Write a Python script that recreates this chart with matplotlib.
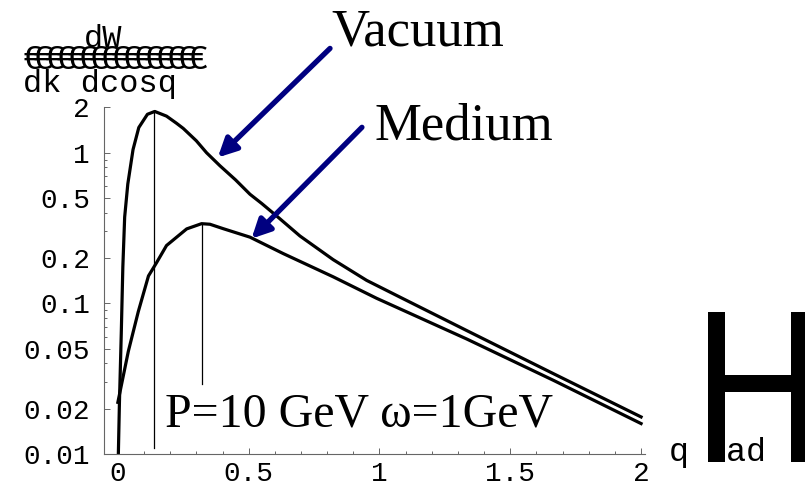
import numpy as np
import matplotlib.pyplot as plt
from matplotlib.patheffects import AbstractPathEffect
from matplotlib.transforms import Affine2D

# spectrum in vacuum and in the medium (log scale)
vac_x = [0.0, 0.006, 0.013, 0.019, 0.026, 0.038, 0.058, 0.08, 0.113, 0.141, 0.186, 0.224,
         0.25, 0.30, 0.339, 0.39, 0.45, 0.505, 0.55, 0.607, 0.696, 0.823, 0.951, 1.078,
         1.333, 1.665, 2.0]
vac_y = [0.007, 0.022, 0.063, 0.174, 0.374, 0.62, 1.05, 1.47, 1.8, 1.88, 1.75, 1.57,
         1.45, 1.2, 1.0, 0.82, 0.66, 0.53, 0.46, 0.38, 0.28, 0.195, 0.142, 0.110,
         0.066, 0.0341, 0.0176]

med_x = [0.0, 0.04, 0.078, 0.117, 0.147, 0.186, 0.263, 0.32, 0.352, 0.403, 0.505, 0.632,
         0.823, 0.989, 1.333, 1.665, 2.0]
med_y = [0.022, 0.048, 0.088, 0.152, 0.185, 0.242, 0.312, 0.338, 0.335, 0.313, 0.275, 0.214,
         0.150, 0.108, 0.058, 0.0308, 0.0159]

# peak markers: (x, y_bottom, y_top)
vac_peak = (0.138, 0.0109, 1.88)
med_peak = (0.32, 0.0293, 0.338)

xticks = [0, 0.5, 1, 1.5, 2]
xticklabels = ['0', '0.5', '1', '1.5', '2']
yticks = [0.01, 0.02, 0.05, 0.1, 0.2, 0.5, 1, 2]
yticklabels = ['0.01', '0.02', '0.05', '0.1', '0.2', '0.5', '1', '2']


class Squeeze(AbstractPathEffect):
    """draw text glyphs squeezed horizontally"""
    def __init__(self, sx):
        super().__init__()
        self.sx = sx

    def draw_path(self, renderer, gc, tpath, affine, rgbFace=None):
        renderer.draw_path(gc, tpath, Affine2D().scale(self.sx, 1) + affine, rgbFace)


W, H = 805, 490
fig = plt.figure(figsize=(W / 100, H / 100), dpi=100)
ax = fig.add_axes([104 / W, 1 - 453.9 / H, (645 - 104) / W, (453.9 - 107.4) / H])

def fx(px):
    return px / W

def fy(py):
    return 1 - py / H

ax.plot(vac_x, vac_y, color='black', lw=2.3, solid_joinstyle='round')
ax.plot(med_x, med_y, color='black', lw=2.3, solid_joinstyle='round')
ax.plot([vac_peak[0]] * 2, vac_peak[1:], color='black', lw=0.9)
ax.plot([med_peak[0]] * 2, med_peak[1:], color='black', lw=0.9)

ax.set_yscale('log')
ax.set_xlim(-0.053, 2.015)
ax.set_ylim(0.01, 2)

ax.set_xticks(xticks)
ax.set_xticklabels(xticklabels)
ax.set_xticks(np.arange(0, 2.01, 0.1), minor=True)
ax.set_yticks(yticks)
ax.set_yticklabels(yticklabels)
ax.set_yticks([0.03, 0.04, 0.06, 0.07, 0.08, 0.09, 0.3, 0.4, 0.6, 0.7, 0.8, 0.9], minor=True)
ax.yaxis.set_minor_formatter(plt.NullFormatter())

for s in ['top', 'right']:
    ax.spines[s].set_visible(False)
for s in ['left', 'bottom']:
    ax.spines[s].set_color('#666666')
    ax.spines[s].set_linewidth(0.8)
ax.tick_params(which='both', direction='in', colors='#666666', width=0.7,
               labelcolor='black', labelsize=20)
ax.tick_params(which='major', length=4)
ax.tick_params(which='minor', length=2.2)
ax.tick_params(axis='y', pad=10)
ax.tick_params(axis='x', pad=5)
for lab in ax.get_xticklabels() + ax.get_yticklabels():
    lab.set_family('Liberation Mono')

# arrows pointing at the curves
navy = '#000080'
ax.annotate('', xy=(0.382, 0.93), xytext=(0.811, 4.93), annotation_clip=False,
            arrowprops=dict(arrowstyle='-|>', color=navy, lw=3.8, mutation_scale=28,
                            shrinkA=0, shrinkB=0))
ax.annotate('', xy=(0.511, 0.269), xytext=(0.933, 1.475), annotation_clip=False,
            arrowprops=dict(arrowstyle='-|>', color=navy, lw=3.8, mutation_scale=28,
                            shrinkA=0, shrinkB=0))

serif = 'Liberation Serif'
fig.text(fx(331), fy(45), 'Vacuum', family=serif, fontsize=38, va='baseline', ha='left')
fig.text(fx(374), fy(140), 'Medium', family=serif, fontsize=38, va='baseline', ha='left')
fig.text(fx(165), fy(426.5), 'P=10 GeV \u03c9=1GeV', family=serif, fontsize=34.5,
         va='baseline', ha='left')

# y axis label: dW over a broken fraction bar over dk dcosq
mono = 'Liberation Mono'
fig.text(fx(103), fy(47), 'dW', family=mono, fontsize=23, va='baseline', ha='center')
for k in range(16):
    fig.text(fx(22 + 11 * k), fy(69), '\u20ac', family=mono, fontsize=25,
             va='baseline', ha='left')
fig.text(fx(23), fy(92), 'dk dcosq', family=mono, fontsize=23, va='baseline', ha='left')

# x axis label
fig.text(fx(669), fy(461), 'q', family=mono, fontsize=24, va='baseline', ha='left')
fig.text(fx(706), fy(461), 'rad', family=mono, fontsize=24, va='baseline', ha='left')
fig.text(fx(694), fy(462), 'H', family='Liberation Sans', fontsize=157,
         va='baseline', ha='left', zorder=5, path_effects=[Squeeze(0.81)])

fig.savefig('out.png', dpi=100)
